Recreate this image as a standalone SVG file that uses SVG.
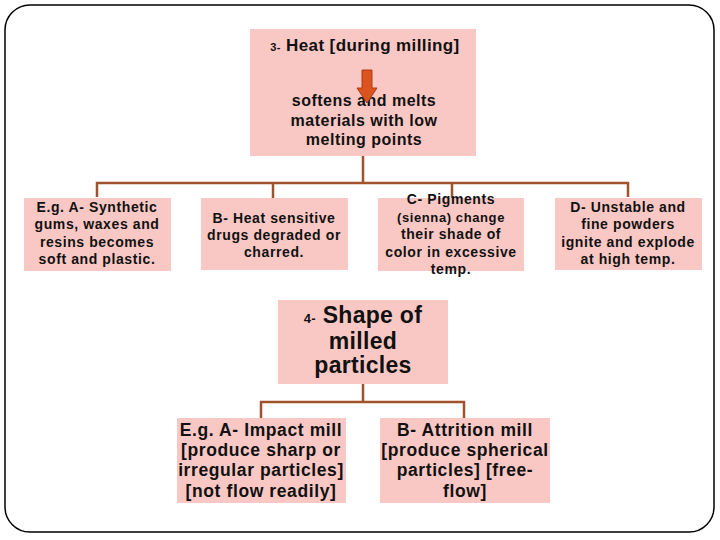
<svg xmlns="http://www.w3.org/2000/svg" width="720" height="540" viewBox="0 0 720 540">
<style>
.box{fill:#FAC8C4;}
.t{font-family:"Liberation Sans",Arial,sans-serif;font-weight:bold;fill:#111;text-anchor:middle;}
.s14{font-size:14px;letter-spacing:0.6px;}
.s15{font-size:16px;letter-spacing:0.5px;}
.s16{font-size:17px;letter-spacing:0.4px;}
.s17{font-size:17.5px;letter-spacing:0.6px;}
.big{font-size:23px;letter-spacing:0.3px;}
.conn{fill:none;stroke:#A0522D;stroke-width:2.5;}
</style>
<rect x="5" y="5" width="709" height="527" rx="25" ry="25" fill="#fff" stroke="#000" stroke-width="1.5"/>
<g id="connectors">
<path class="conn" d="M363,156 V183 M97,197 V183 H628 V197 M273,183 V198 M452,183 V198"/>
<path class="conn" d="M363,384 V402 M261,418 V402 H464 V418"/>
</g>
<g id="heat">
<rect class="box" x="250" y="29" width="226" height="127"/>
<text class="t s16" x="365" y="51"><tspan font-size="11">3-</tspan> Heat [during milling]</text>
<text class="t s15"><tspan x="364" y="106">softens and melts</tspan><tspan x="364" y="126">materials with low</tspan><tspan x="364" y="145">melting points</tspan></text>
<path d="M362,70 H372 V88 H377 L367,103 L357,88 H362 Z" fill="#D9541E" stroke="#B03A12" stroke-width="1"/>
</g>
<g id="a">
<rect class="box" x="24" y="198" width="147" height="73"/>
<text class="t s14"><tspan x="97" y="212">E.g. A- Synthetic</tspan><tspan x="97" y="229">gums, waxes and</tspan><tspan x="97" y="247">resins becomes</tspan><tspan x="97" y="264">soft and plastic.</tspan></text>
</g>
<g id="b">
<rect class="box" x="201" y="198" width="147" height="72"/>
<text class="t s14"><tspan x="274" y="223">B- Heat sensitive</tspan><tspan x="274" y="240">drugs degraded or</tspan><tspan x="274" y="257">charred.</tspan></text>
</g>
<g id="c">
<rect class="box" x="378" y="198" width="146" height="73"/>
<text class="t s14"><tspan x="451" y="204">C- Pigments</tspan><tspan x="451" y="222" font-size="13">(sienna) change</tspan><tspan x="451" y="239">their shade of</tspan><tspan x="451" y="257">color in excessive</tspan><tspan x="451" y="274">temp.</tspan></text>
</g>
<g id="d">
<rect class="box" x="555" y="198" width="147" height="72"/>
<text class="t s14"><tspan x="628" y="212">D- Unstable and</tspan><tspan x="628" y="229">fine powders</tspan><tspan x="628" y="247">ignite and explode</tspan><tspan x="628" y="264">at high temp.</tspan></text>
</g>
<g id="shape">
<rect class="box" x="278" y="300" width="170" height="84"/>
<text class="t big"><tspan x="363" y="323"><tspan font-size="13">4-</tspan> Shape of</tspan><tspan x="363" y="349">milled</tspan><tspan x="363" y="373">particles</tspan></text>
</g>
<g id="impact">
<rect class="box" x="177" y="418" width="169" height="85"/>
<text class="t s17"><tspan x="261" y="436">E.g. A- Impact mill</tspan><tspan x="261" y="456">[produce sharp or</tspan><tspan x="261" y="476">irregular particles]</tspan><tspan x="261" y="497">[not flow readily]</tspan></text>
</g>
<g id="attrition">
<rect class="box" x="380" y="418" width="170" height="85"/>
<text class="t s17"><tspan x="465" y="436">B- Attrition mill</tspan><tspan x="465" y="456">[produce spherical</tspan><tspan x="465" y="476">particles] [free-</tspan><tspan x="465" y="497">flow]</tspan></text>
</g>
</svg>
